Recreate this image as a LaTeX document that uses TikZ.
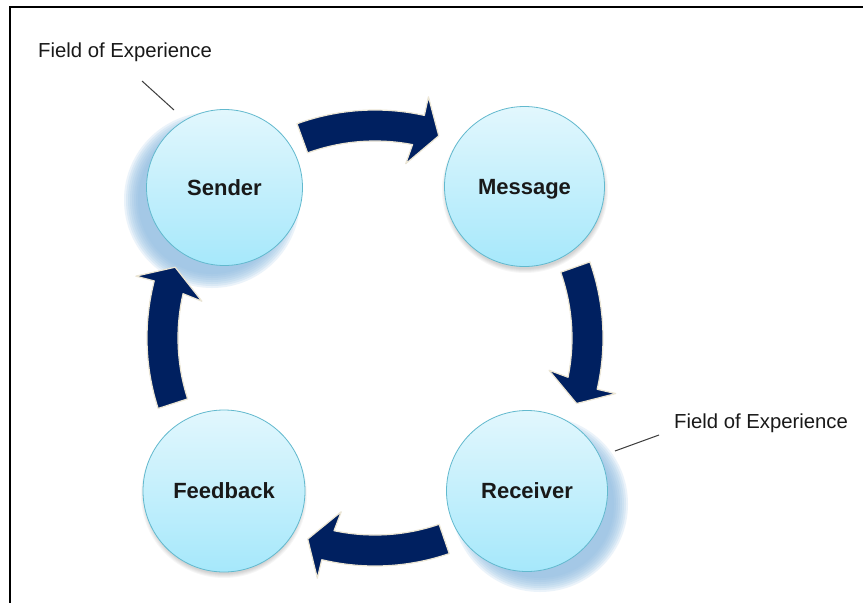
\documentclass[tikz,border=0pt]{standalone}
\usepackage{fontspec}
\setmainfont{Liberation Sans}
\definecolor{navy}{RGB}{0,32,96}
\definecolor{glow}{RGB}{236,230,212}
\definecolor{bubtop}{RGB}{226,247,253}
\definecolor{bubbot}{RGB}{166,232,251}
\definecolor{bubline}{RGB}{98,185,206}
\definecolor{shadowblue}{RGB}{140,186,226}
\definecolor{leader}{RGB}{60,60,60}
\tikzset{
  bub/.style={circle, draw=bubline, line width=0.8pt, top color=bubtop, bottom color=bubbot,
    inner sep=0pt, text depth=0pt, font=\fontsize{22}{26}\selectfont\bfseries, text=black!90},
  barrow/.style={fill=navy, draw=glow, line width=1.2pt, line join=round},
  felabel/.style={font=\fontsize{20.3}{24}\selectfont, text=black!90, inner sep=0pt},
  leaderline/.style={draw=leader, line width=1pt}
}
\newcommand{\cyclearrow}[1]{%
  \pgfmathsetmacro\aA{#1}%
  \pgfmathsetmacro\aB{#1-32.5}%
  \pgfmathsetmacro\aT{#1-37.5}%
  \pgfmathsetmacro\aI{#1-30}%
  \pgfmathsetmacro\aJ{#1-31}%
  \filldraw[barrow] ([shift={(C)}]\aA:228) arc[start angle=\aA, end angle=\aB, radius=228]
    -- ([shift={(C)}]\aB:247) -- ([shift={(C)}]\aT:212) -- ([shift={(C)}]\aI:177)
    -- ([shift={(C)}]\aJ:197) arc[start angle=\aJ, end angle=\aA, radius=197] -- cycle;}
\begin{document}
\begin{tikzpicture}[x=1pt,y=1pt]
\useasboundingbox (0,0) rectangle (863,-603);
\fill[white] (0,0) rectangle (863,-603);
\draw[line width=2pt] (10,-604) -- (10,-7) -- (864,-7);
\coordinate (C) at (375,-338);
% soft shadows
\foreach \k in {0,...,7} \fill[shadowblue, opacity=0.17] (212,-200) circle ({88-2*\k});
\foreach \k in {0,...,7} \fill[shadowblue, opacity=0.17] (540,-504) circle ({88-2*\k});
\foreach \k in {0,...,4} \fill[black, opacity=0.035] (525,-190) circle ({83-\k});
\foreach \k in {0,...,4} \fill[black, opacity=0.035] (224,-495) circle ({83-\k});
% circles
\node[bub, minimum size=156pt] (sender) at (224.5,-187.5) {Sender};
\node[bub, minimum size=160pt] (message) at (524.5,-186.5) {Message};
\node[bub, minimum size=161pt] (receiver) at (527,-491) {Receiver};
\node[bub, minimum size=162pt] (feedback) at (224,-491) {Feedback};
% arrows
\cyclearrow{110}
\cyclearrow{19.5}
\cyclearrow{-71}
\cyclearrow{198}
% labels
\node[felabel, anchor=base west] (fe1) at (38,-57) {Field of Experience};
\node[felabel, anchor=base west] (fe2) at (674,-428) {Field of Experience};
\coordinate (l1a) at (142,-81);
\coordinate (l1b) at (174,-110);
\coordinate (l2a) at (615,-451);
\coordinate (l2b) at (659,-435);
\draw[leaderline] (l1a) -- (l1b);
\draw[leaderline] (l2a) -- (l2b);
\end{tikzpicture}
\end{document}
